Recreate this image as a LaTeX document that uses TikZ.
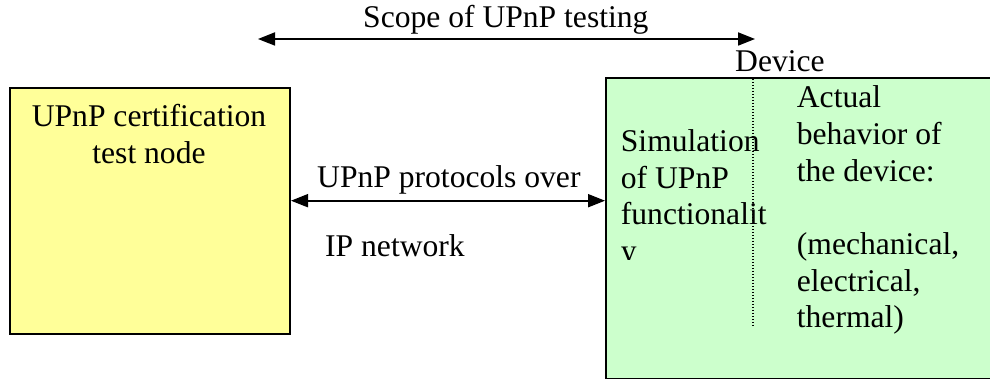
\documentclass[tikz,border=0pt]{standalone}
\usepackage{fontspec}
\setmainfont{Liberation Serif}
\usetikzlibrary{arrows.meta}
\definecolor{testyellow}{HTML}{FFFF99}
\definecolor{devgreen}{HTML}{CCFFCC}
\begin{document}
\begin{tikzpicture}[x=1pt, y=-1pt,
    box/.style={draw=black, line width=2pt, inner sep=0pt, anchor=north west},
    txt/.style={inner sep=0pt, anchor=base west, font=\fontsize{31.6}{36.6}\selectfont},
    link/.style={line width=1.8pt, {Triangle[length=17pt,width=13pt]}-{Triangle[length=17pt,width=13pt]}}]

    \useasboundingbox (0,0) rectangle (990,379);

    \node[box, fill=testyellow, minimum width=280pt, minimum height=246pt] (testnode) at (9,87) {};
    \node[box, fill=devgreen, minimum width=400pt, minimum height=301pt] (device) at (605,77) {};
    \draw[line width=1.2pt, dash pattern=on 1.4pt off 1.6pt] (753,79) -- (753,327);

    \node[txt, anchor=base] (title1) at (149,126.7) {UPnP certification};
    \node[txt, anchor=base] (title2) at (149,163.3) {test node};
    \node[txt] (devlabel) at (735,72) {Device};

    \coordinate (scopeL) at (258,39);
    \coordinate (scopeR) at (755,39);
    \draw[link] (scopeL) -- (scopeR);
    \node[txt] (scope) at (363,28) {Scope of UPnP testing};

    \coordinate (linkL) at (testnode.east |- 0,200.7);
    \coordinate (linkR) at (device.west |- 0,200.7);
    \draw[link] (linkL) -- (linkR);
    \node[txt] (proto1) at (317,188) {UPnP protocols over};
    \node[txt] (proto2) at (325,256.7) {IP network};

    \begin{scope}
        \clip (600,80) rectangle (790,260);
        \node[txt] (sim1) at (620.7,151.7) {Simulation};
        \node[txt] (sim2) at (620.7,188.3) {of UPnP};
        \node[txt] (sim3) at (620.7,224.9) {functionalit};
        \node[txt] (sim4) at (620.7,261.5) {y};
    \end{scope}

    \node[txt] (act1) at (796.7,108) {Actual};
    \node[txt] (act2) at (796.7,144.6) {behavior of};
    \node[txt] (act3) at (796.7,181.2) {the device:};
    \node[txt] (act4) at (796.7,254.4) {(mechanical,};
    \node[txt] (act5) at (796.7,291) {electrical,};
    \node[txt] (act6) at (796.7,327.6) {thermal)};

\end{tikzpicture}
\end{document}
